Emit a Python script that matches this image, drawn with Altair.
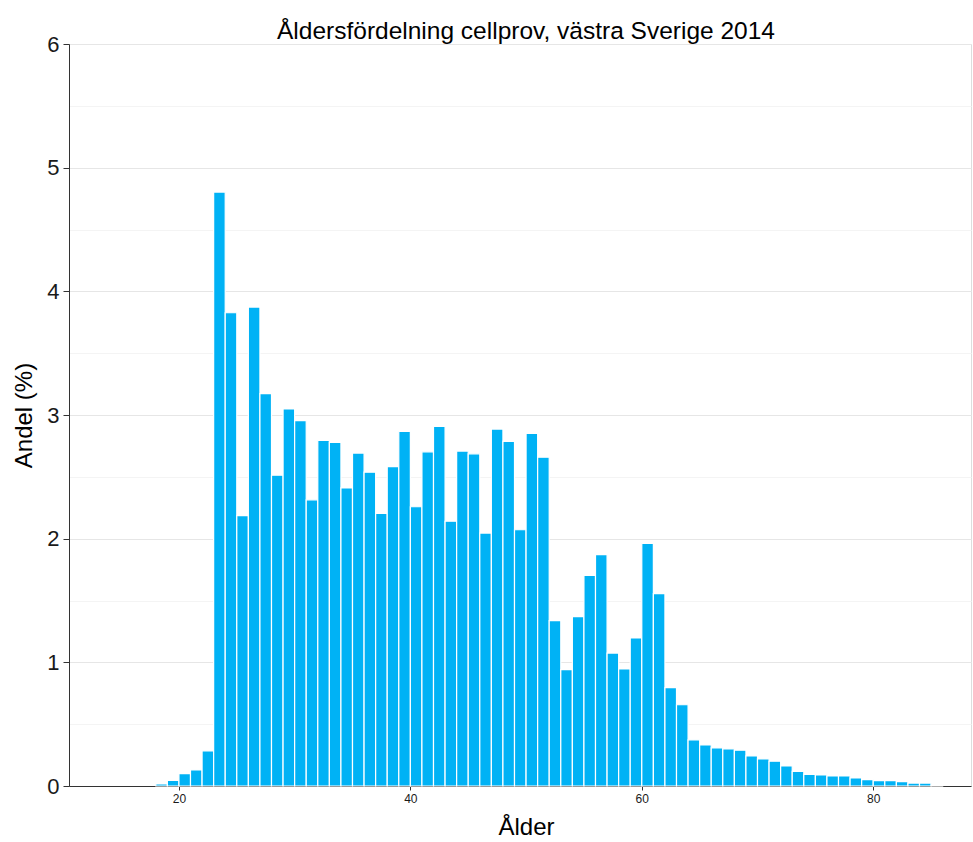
import altair as alt
import pandas as pd

# Share of cell samples per one-year age group (percent)
ages = list(range(18, 86))
shares = [
    0.016, 0.046, 0.100, 0.130, 0.284,            # 18-22
    4.803, 3.827, 2.186, 3.873, 3.173,            # 23-27
    2.513, 3.049, 2.954, 2.314, 2.795,            # 28-32
    2.778, 2.410, 2.692, 2.538, 2.205,            # 33-37
    2.583, 2.868, 2.258, 2.702, 2.908,            # 38-42
    2.141, 2.708, 2.686, 2.045, 2.886,            # 43-47
    2.786, 2.072, 2.851, 2.659, 1.337,            # 48-52
    0.941, 1.369, 1.703, 1.871, 1.075,            # 53-57
    0.946, 1.197, 1.962, 1.555, 0.796,            # 58-62
    0.657, 0.373, 0.332, 0.308, 0.300,            # 63-67
    0.289, 0.243, 0.219, 0.200, 0.162,            # 68-72
    0.119, 0.094, 0.089, 0.081, 0.081,            # 73-77
    0.065, 0.051, 0.043, 0.043, 0.035,            # 78-82
    0.024, 0.024, 0.008,                          # 83-85
]

x_ticks = [20, 40, 60, 80]
y_grid = [i / 2 for i in range(13)]

df = pd.DataFrame({"age": ages, "share": shares})
df["age_end"] = df["age"] + 1

FONT = "Liberation Sans"
is_whole = "datum.value % 1 == 0"

chart = (
    alt.Chart(df)
    .mark_rect(color="#00B2F5", stroke="white", strokeWidth=1.2)
    .encode(
        x=alt.X(
            "age:Q",
            scale=alt.Scale(domain=[10.5, 88.45], nice=False, zero=False),
            axis=alt.Axis(
                title="Ålder",
                values=x_ticks,
                grid=False,
                labelFontSize=12,
                labelFont=FONT,
                labelColor="#1a1a1a",
                labelPadding=3,
                tickSize=4,
                tickColor="#333333",
                domainColor="#333333",
                titleFont=FONT,
                titleFontSize=24,
                titleFontWeight="normal",
                titleColor="#000000",
                titlePadding=11,
                titleX=457,
            ),
        ),
        x2="age_end:Q",
        y=alt.Y(
            "share:Q",
            scale=alt.Scale(domain=[0, 6], nice=False),
            axis=alt.Axis(
                title="Andel (%)",
                values=y_grid,
                labelExpr="datum.value % 1 == 0 ? format(datum.value, 'd') : ''",
                gridColor={"condition": {"test": is_whole, "value": "#e6e6e6"}, "value": "#f4f4f4"},
                tickOpacity={"condition": {"test": is_whole, "value": 1}, "value": 0},
                labelFontSize=22,
                labelFont=FONT,
                labelColor="#1a1a1a",
                labelPadding=4,
                tickSize=6,
                tickColor="#333333",
                domainColor="#333333",
                titleFont=FONT,
                titleFontSize=24,
                titleFontWeight="normal",
                titleColor="#000000",
                titlePadding=10,
            ),
        ),
        y2=alt.datum(0),
    )
    .properties(
        width=902,
        height=742,
        title=alt.TitleParams(
            "Åldersfördelning cellprov, västra Sverige 2014",
            font=FONT,
            fontSize=24.5,
            fontWeight="normal",
            color="#000000",
            anchor="middle",
            offset=2,
            dy=13,
            dx=6,
        ),
        autosize=alt.AutoSizeParams(type="none"),
        padding={"left": 69, "top": 44, "right": 2, "bottom": 56},
    )
    .configure_view(stroke=None)
    .configure(background="white")
)

chart.save("out.html", embed_options={"renderer": "svg", "actions": False})
